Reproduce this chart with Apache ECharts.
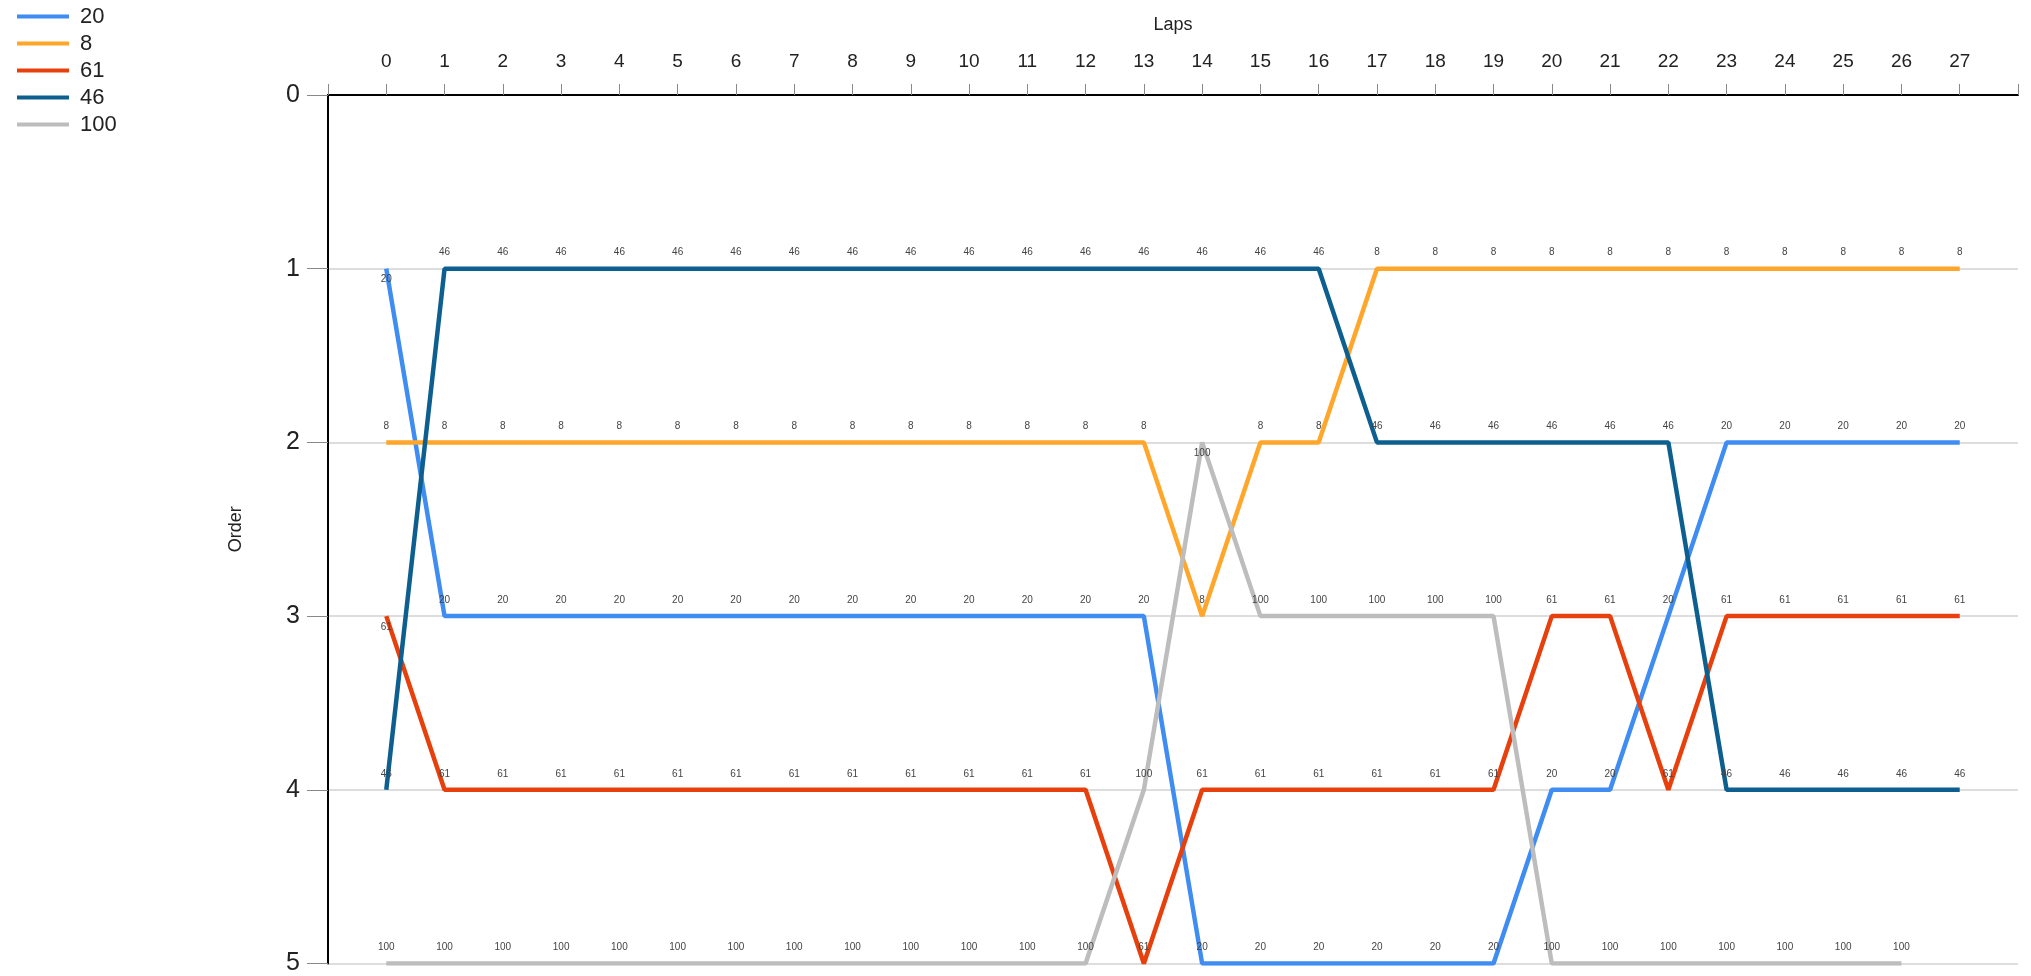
<!DOCTYPE html>
<html>
<head>
<meta charset="utf-8">
<script src="https://cdn.jsdelivr.net/npm/echarts@6/dist/echarts.min.js"></script>
<style>
  html, body { margin: 0; padding: 0; background: #ffffff; }
  #chart { width: 2031px; height: 976px; }
</style>
</head>
<body>
<div id="chart"></div>
<script>
// ---- data ----
const laps = [0,1,2,3,4,5,6,7,8,9,10,11,12,13,14,15,16,17,18,19,20,21,22,23,24,25,26,27];
const seriesNames = ['20', '8', '61', '46', '100'];
const car20  = [1,3,3,3,3,3,3,3,3,3,3,3,3,3,5,5,5,5,5,5,4,4,3,2,2,2,2,2];
const car8   = [2,2,2,2,2,2,2,2,2,2,2,2,2,2,3,2,2,1,1,1,1,1,1,1,1,1,1,1];
const car61  = [3,4,4,4,4,4,4,4,4,4,4,4,4,5,4,4,4,4,4,4,3,3,4,3,3,3,3,3];
const car46  = [4,1,1,1,1,1,1,1,1,1,1,1,1,1,1,1,1,2,2,2,2,2,2,4,4,4,4,4];
const car100 = [5,5,5,5,5,5,5,5,5,5,5,5,5,4,2,3,3,3,3,3,5,5,5,5,5,5,5];
const orderTicks = [0,1,2,3,4,5];

// ---- styles ----
const colors = ['#3f8cf2', '#ffa62b', '#e8400c', '#0d5f8f', '#bdbdbd'];
// labels placed below the point instead of above
const belowLabels = { '20': [0], '61': [0], '100': [14] };

const allValues = [car20, car8, car61, car46, car100];

const series = seriesNames.map((name, si) => {
  const vals = allValues[si];
  const below = belowLabels[name] || [];
  const data = vals.map((v, i) => {
    const item = { value: [laps[i], v] };
    if (below.indexOf(i) >= 0) {
      item.label = { position: 'bottom', distance: 6 };
    }
    return item;
  });
  return {
    name: name,
    type: 'line',
    data: data,
    symbol: 'circle',
    symbolSize: 0,
    showSymbol: true,
    lineStyle: { width: 4.5, color: colors[si] },
    itemStyle: { color: colors[si] },
    label: {
      show: true,
      position: 'top',
      distance: 11,
      formatter: name,
      fontSize: 10,
      fontFamily: 'Arial, Liberation Sans, sans-serif',
      color: '#444444'
    },
    emphasis: { disabled: true },
    animation: false
  };
});

const chart = echarts.init(document.getElementById('chart'), null, { renderer: 'canvas' });
chart.setOption({
  backgroundColor: '#ffffff',
  animation: false,
  color: colors,
  textStyle: { fontFamily: 'Arial, Liberation Sans, sans-serif' },
  legend: {
    orient: 'vertical',
    left: 12,
    top: 0,
    icon: 'rect',
    itemWidth: 52,
    itemHeight: 4,
    itemGap: 4,
    data: seriesNames,
    textStyle: { fontSize: 22, color: '#222222', lineHeight: 23, padding: [0, 0, 0, 6] }
  },
  grid: { left: 328, top: 95, right: 13, bottom: 11, containLabel: false },
  xAxis: {
    type: 'value',
    position: 'top',
    min: -1,
    max: 28,
    interval: 1,
    name: 'Laps',
    nameLocation: 'middle',
    nameGap: 61,
    nameTextStyle: { fontSize: 18, color: '#222222' },
    axisLine: { show: true, onZero: false, lineStyle: { color: '#000000', width: 2 } },
    axisTick: { show: true, length: 11, lineStyle: { color: '#888888', width: 1 } },
    axisLabel: {
      fontSize: 19,
      color: '#222222',
      margin: 24,
      formatter: function (v) { return (v < laps[0] || v > laps[laps.length - 1]) ? '' : String(v); }
    },
    splitLine: { show: false }
  },
  yAxis: {
    type: 'value',
    inverse: true,
    min: orderTicks[0],
    max: orderTicks[orderTicks.length - 1],
    interval: 1,
    name: 'Order',
    nameLocation: 'middle',
    nameGap: 83,
    nameTextStyle: { fontSize: 18, color: '#222222' },
    axisLine: { show: true, onZero: false, lineStyle: { color: '#000000', width: 2 } },
    axisTick: { show: true, length: 21, lineStyle: { color: '#888888', width: 1 } },
    axisLabel: { fontSize: 25, color: '#222222', margin: 28 },
    splitLine: { show: true, lineStyle: { color: '#dddddd', width: 2 } }
  },
  series: series
});
</script>
</body>
</html>
